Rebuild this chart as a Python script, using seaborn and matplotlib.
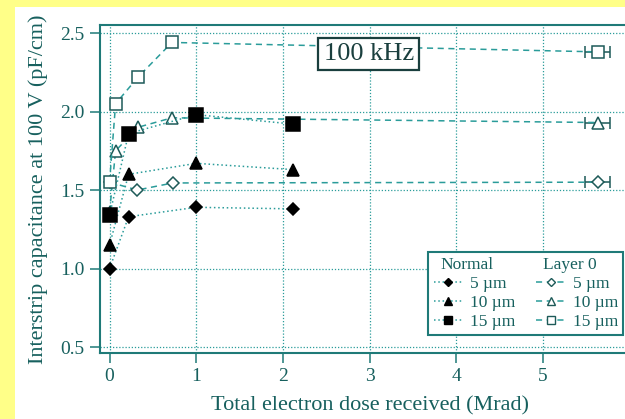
import matplotlib
matplotlib.use('Agg')
import matplotlib.pyplot as plt
from matplotlib.lines import Line2D
from matplotlib.patches import Rectangle
import seaborn as sns
import pandas as pd

# values: dose in Mrad, capacitance in pF/cm
NORMAL_DOSE = [0.0, 0.22, 1.0, 2.12]
NORMAL_5 = [1.00, 1.33, 1.39, 1.38]
NORMAL_10 = [1.15, 1.60, 1.67, 1.63]
NORMAL_15 = [1.34, 1.86, 1.98, 1.92]

LAYER0_DOSE_5 = [0.0, 0.32, 0.73, 5.63]
LAYER0_5 = [1.55, 1.50, 1.545, 1.55]
LAYER0_DOSE = [0.0, 0.07, 0.33, 0.72, 5.63]
LAYER0_10 = [1.36, 1.75, 1.90, 1.96, 1.93]
LAYER0_15 = [1.55, 2.05, 2.22, 2.44, 2.38]
LAST_DOSE_ERR = 0.14

WIDTHS = ['5 µm', '10 µm', '15 µm']
X_TICKS = [0, 1, 2, 3, 4, 5, 6]
Y_TICKS = [0.5, 1.0, 1.5, 2.0, 2.5]

TEXT = '#17605e'
LINE = '#2a9c9a'
FRAME = '#1f7a78'
OPEN_EDGE = '#1d5a58'
YELLOW = '#ffff88'

sns.set_theme(style='white')
plt.rcParams['font.family'] = ['Liberation Serif', 'DejaVu Serif']

fig = plt.figure(figsize=(6.25, 4.19), dpi=100, facecolor=YELLOW)
fig.patches.append(Rectangle((15 / 625, 0), 1, (419 - 7) / 419, transform=fig.transFigure,
                             facecolor='white', edgecolor='none', zorder=-10))
ax = fig.add_axes([0.16, 0.1575, 0.864, 0.7828])
ax.set_facecolor('white')

dotted = (0, (1, 1.8))
dashed = (0, (4, 3))


def draw(x, y, marker, ms, filled, ls, z):
    df = pd.DataFrame({'dose': x, 'cap': y})
    sns.lineplot(data=df, x='dose', y='cap', ax=ax, sort=False, estimator=None,
                 color=LINE, lw=1.1, linestyle=ls, marker=marker, markersize=ms,
                 markerfacecolor='black' if filled else 'white',
                 markeredgecolor='black' if filled else OPEN_EDGE,
                 markeredgewidth=1.1, zorder=z)


# layer 0 (open markers, dashed)
for xs, ys, m, ms in [(LAYER0_DOSE_5, LAYER0_5, 'D', 6),
                      (LAYER0_DOSE, LAYER0_10, '^', 8),
                      (LAYER0_DOSE, LAYER0_15, 's', 8.5)]:
    ax.errorbar(xs[-1], ys[-1], xerr=LAST_DOSE_ERR, fmt='none', ecolor=OPEN_EDGE,
                elinewidth=1.1, capsize=4, capthick=1.1, zorder=3)
    draw(xs, ys, m, ms, False, dashed, 3)

# normal (filled markers, dotted)
for ys, m, ms in [(NORMAL_5, 'D', 6.5), (NORMAL_10, '^', 8.5), (NORMAL_15, 's', 9.5)]:
    draw(NORMAL_DOSE, ys, m, ms, True, dotted, 4)

ax.set_xlim(-0.11, 6.12)
ax.set_ylim(0.462, 2.551)
ax.set_xticks(X_TICKS)
ax.set_yticks(Y_TICKS)
ax.set_yticklabels([f'{v:.1f}' for v in Y_TICKS])
ax.tick_params(direction='out', length=7, width=1.1, color=FRAME, labelcolor=TEXT,
               labelsize=14, pad=4, bottom=True, left=True)
ax.grid(True, linestyle=(0, (1, 1.5)), color=LINE, lw=0.9)
ax.set_axisbelow(True)
for sp in ax.spines.values():
    sp.set_color(FRAME)
    sp.set_linewidth(1.5)

ax.set_xlabel('Total electron dose received (Mrad)', fontsize=16, color=TEXT)
ax.set_ylabel('Interstrip capacitance at 100 V (pF/cm)', fontsize=16, color=TEXT)
ax.xaxis.set_label_coords(0.5, -0.132)
ax.yaxis.set_label_coords(-0.096, 0.5)

ax.text(2.99, 2.365, '100 kHz', ha='center', va='center', fontsize=19, color='#1a3f3e',
        zorder=6, bbox=dict(boxstyle='square,pad=0.2', fc='white', ec='#1a3f3e', lw=1.6))

# legend: two columns, header row on top of each
blank = Line2D([], [], linestyle='none')
handles = [blank]
for m, ms in [('D', 4.5), ('^', 6), ('s', 6)]:
    handles.append(Line2D([], [], color=LINE, ls=dotted, lw=1.1, marker=m, ms=ms,
                          mfc='black', mec='black'))
handles.append(blank)
for m, ms in [('D', 4.5), ('^', 6), ('s', 6)]:
    handles.append(Line2D([], [], color=LINE, ls=dashed, lw=1.1, marker=m, ms=ms,
                          mfc='white', mec=OPEN_EDGE))
labels = ['Normal'] + WIDTHS + ['Layer 0'] + WIDTHS
leg = ax.legend(handles, labels, ncol=2, loc='upper right', bbox_to_anchor=(0.9685, 0.308),
                borderaxespad=0, fontsize=12.5, labelcolor=TEXT, handlelength=1.7,
                handletextpad=0.4, columnspacing=1.2, labelspacing=0.15,
                fancybox=False, framealpha=1, edgecolor=FRAME, borderpad=0.3)
leg.get_frame().set_linewidth(1.5)
leg.set_zorder(7)
for col in leg._legend_handle_box.get_children():
    col.get_children()[0].get_children()[0].set_width(0)

fig.savefig('out.png', dpi=100, facecolor=YELLOW)
